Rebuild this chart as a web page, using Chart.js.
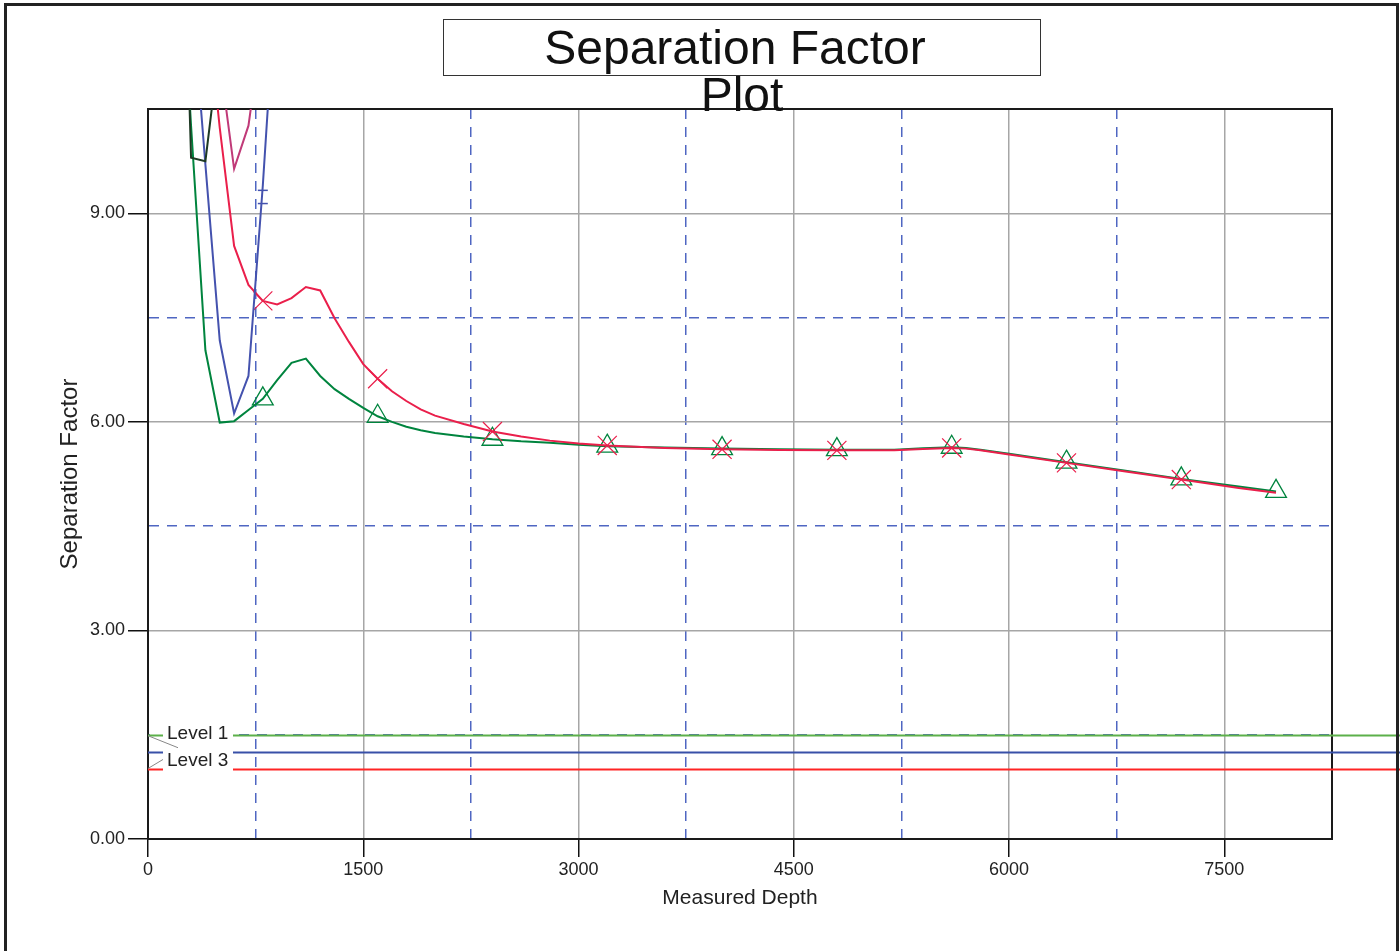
<!DOCTYPE html>
<html>
<head>
<meta charset="utf-8">
<script src="https://cdn.jsdelivr.net/npm/chart.js@4"></script>
<style>
  html, body { margin: 0; padding: 0; background: #ffffff; }
  #wrap { width: 1400px; height: 951px; position: relative; }
</style>
</head>
<body>
<div id="wrap"><canvas id="c"></canvas></div>
<script>
// ---- data ----
const titleLines = ['Separation Factor', 'Plot'];
const xAxisTitle = 'Measured Depth';
const yAxisTitle = 'Separation Factor';

const greenDepth = [200,300,400,500,600,700,800,900,1000,1100,1200,1300,1400,1500,1600,1700,1800,1900,2000,2200,2400,2600,2800,3000,3200,3600,4000,4400,4800,5200,5400,5600,5700,5800,6000,6400,6800,7200,7600,7860];
const greenSF    = [13.8,10.26,7.03,5.99,6.01,6.17,6.33,6.6,6.85,6.91,6.66,6.47,6.33,6.2,6.08,6.0,5.93,5.88,5.84,5.79,5.75,5.72,5.70,5.67,5.65,5.63,5.615,5.605,5.60,5.60,5.62,5.635,5.625,5.60,5.54,5.42,5.30,5.18,5.07,5.0];
const greenMarkers = [800,1600,2400,3200,4000,4800,5600,6400,7200,7860];

const redDepth = [400,500,600,700,800,900,1000,1100,1200,1300,1400,1500,1600,1700,1800,1900,2000,2200,2400,2600,2800,3000,3200,3600,4000,4400,4800,5200,5400,5600,5700,5800,6000,6400,6800,7200,7600,7860];
const redSF    = [12.2,10.23,8.53,7.97,7.74,7.69,7.78,7.94,7.89,7.49,7.15,6.83,6.62,6.44,6.30,6.18,6.09,5.97,5.86,5.79,5.73,5.69,5.66,5.625,5.605,5.595,5.59,5.59,5.61,5.625,5.615,5.59,5.53,5.41,5.29,5.17,5.05,4.98];
const redMarkers = [800,1600,2400,3200,4000,4800,5600,6400,7200];

const blueDepth = [300,400,500,600,700,800,900];
const blueSF    = [12.3,9.7,7.17,6.12,6.66,9.4,12.6];

const darkDepth = [200,300,400,500];
const darkSF    = [16.8,9.8,9.75,11.45];

const magentaDepth = [500,600,700,800];
const magentaSF    = [11.2,9.64,10.26,11.76];

const plusDepth = [800,800];
const plusSF    = [9.33,9.14];

const levelNames  = ['Level 1','Level 3'];
const levelValues = [1.5, 1.25, 1.0];
const levelColors = ['#5cb04a', '#3850a8', '#ff2424'];

const xTickMin = 0, xTickMax = 8250, xMinorStep = 750, xMajorStep = 1500;
const yTickMin = 0, yTickMax = 10.5, yMinorStep = 1.5, yMajorStep = 3;

// ---- helpers ----
const pts = (xs, ys) => xs.map((x, i) => ({x: x, y: ys[i]}));
const FONT = "'Liberation Sans', Arial, Helvetica, sans-serif";

const framePlugin = {
  id: 'frame',
  beforeDatasetsDraw(chart) {
    const {ctx, chartArea: a} = chart;
    ctx.save();
    ctx.strokeStyle = '#1a1a1a';
    ctx.lineWidth = 2;
    ctx.strokeRect(a.left, a.top, a.right - a.left, a.bottom - a.top);
    ctx.restore();
  },
  afterDatasetsDraw(chart) {
    const {ctx, chartArea: a, scales} = chart;
    const y = scales.y;
    const p1 = y.getPixelForValue(levelValues[0]);
    const p2 = y.getPixelForValue(levelValues[1]);
    const p3 = y.getPixelForValue(levelValues[2]);
    ctx.save();
    // clear the label gap
    ctx.fillStyle = '#ffffff';
    ctx.fillRect(a.left + 2, p1 - 4, 83, (p3 - p1) + 8);
    // level lines
    levelValues.forEach((v, i) => {
      const py = Math.round(y.getPixelForValue(v)) + 0.5;
      ctx.strokeStyle = levelColors[i];
      ctx.lineWidth = 2;
      ctx.beginPath();
      ctx.moveTo(a.left, py); ctx.lineTo(a.left + 15, py);
      ctx.moveTo(a.left + 85, py); ctx.lineTo(chart.width, py);
      ctx.stroke();
    });
    // labels
    ctx.fillStyle = '#222';
    ctx.font = '19px ' + FONT;
    ctx.textBaseline = 'middle';
    ctx.textAlign = 'left';
    ctx.fillText(levelNames[0], a.left + 19, p1 - 1);
    ctx.fillText(levelNames[1], a.left + 19, (p2 + p3) / 2 - 0);
    // leader lines
    ctx.strokeStyle = '#888';
    ctx.lineWidth = 1;
    ctx.beginPath();
    ctx.moveTo(a.left, p1 + 1); ctx.lineTo(a.left + 30, p1 + 13);
    ctx.moveTo(a.left, p3 - 1); ctx.lineTo(a.left + 15, p3 - 10);
    ctx.stroke();
    ctx.restore();
  },
  afterDraw(chart) {
    const {ctx} = chart;
    ctx.save();
    // outer frame
    ctx.strokeStyle = '#222';
    ctx.lineWidth = 3;
    ctx.strokeRect(5.5, 4.5, 1392, 980);
    // title box
    ctx.strokeStyle = '#333';
    ctx.lineWidth = 1;
    ctx.strokeRect(443.5, 19.5, 597, 56);
    ctx.fillStyle = '#111';
    ctx.font = '48px ' + FONT;
    ctx.textAlign = 'center';
    ctx.textBaseline = 'alphabetic';
    ctx.fillText(titleLines[0], 735, 64);
    ctx.fillText(titleLines[1], 742, 111);
    ctx.restore();
  }
};

const minorX = v => (v % xMajorStep) !== 0;
const minorY = v => Math.abs((v % yMajorStep)) > 1e-9;

new Chart(document.getElementById('c'), {
  type: 'line',
  data: {
    datasets: [
      { label: 'dark', data: pts(darkDepth, darkSF), borderColor: '#1e3a24', borderWidth: 2, pointRadius: 0, tension: 0 },
      { label: 'magenta', data: pts(magentaDepth, magentaSF), borderColor: '#c03a78', borderWidth: 2, pointRadius: 0, tension: 0 },
      { label: 'blue', data: pts(blueDepth, blueSF), borderColor: '#4452ae', borderWidth: 2, pointRadius: 0, tension: 0 },
      { label: 'plus', data: pts(plusDepth, plusSF), showLine: false, borderColor: '#4452ae', borderWidth: 1.5,
        pointStyle: 'line', pointRadius: 5, pointHoverRadius: 5 },
      { label: 'red', data: pts(redDepth, redSF), borderColor: '#ea1f4b', borderWidth: 2, tension: 0,
        pointStyle: 'crossRot', pointBorderColor: '#ea1f4b', pointBorderWidth: 1.2,
        pointRadius: c => redMarkers.includes(c.raw && c.raw.x) ? 13.5 : 0, pointHoverRadius: 0 },
      { label: 'green', data: pts(greenDepth, greenSF), borderColor: '#00843e', borderWidth: 2, tension: 0,
        pointStyle: 'triangle', pointBorderColor: '#00843e', pointBackgroundColor: 'rgba(0,0,0,0)', pointBorderWidth: 1.3,
        pointRadius: c => greenMarkers.includes(c.raw && c.raw.x) ? 12 : 0, pointHoverRadius: 0 }
    ]
  },
  options: {
    responsive: true,
    maintainAspectRatio: false,
    animation: false,
    devicePixelRatio: 1,
    layout: { padding: { top: 109, right: 68, bottom: 0, left: 0 } },
    plugins: { legend: { display: false }, tooltip: { enabled: false }, title: { display: false } },
    scales: {
      x: {
        type: 'linear', min: xTickMin, max: xTickMax,
        afterFit: s => { s.height = 112; },
        ticks: {
          stepSize: xMinorStep, autoSkip: false, maxRotation: 0, padding: 2,
          color: '#222', font: { size: 18, family: FONT },
          callback: v => minorX(v) ? '' : String(v)
        },
        grid: {
          color: c => (c.tick && minorX(c.tick.value)) ? '#4f66c2' : '#a6a6a6',
          lineWidth: 1.5,
          tickLength: 18, tickWidth: 1.5,
          tickColor: c => (c.tick && minorX(c.tick.value)) ? 'rgba(0,0,0,0)' : '#111'
        },
        border: { display: true, color: '#111', width: 2,
          dash: c => (c.tick && minorX(c.tick.value)) ? [10, 8] : [] },
        title: { display: true, text: xAxisTitle, color: '#222', font: { size: 21, family: FONT }, padding: { top: 0, bottom: 40 } }
      },
      y: {
        type: 'linear', min: yTickMin, max: yTickMax,
        afterFit: s => { s.width = 148; },
        ticks: {
          stepSize: yMinorStep, autoSkip: false, padding: 3,
          color: '#222', font: { size: 18, family: FONT },
          callback: v => minorY(v) ? '' : Number(v).toFixed(2)
        },
        grid: {
          color: c => (c.tick && minorY(c.tick.value)) ? '#4f66c2' : '#a6a6a6',
          lineWidth: 1.5,
          tickLength: 20, tickWidth: 1.5,
          tickColor: c => (c.tick && minorY(c.tick.value)) ? 'rgba(0,0,0,0)' : '#111'
        },
        border: { display: true, color: '#111', width: 2,
          dash: c => (c.tick && minorY(c.tick.value)) ? [10, 8] : [] },
        title: { display: true, text: yAxisTitle, color: '#222', font: { size: 24, family: FONT }, padding: { top: 56, bottom: 0 } }
      }
    }
  },
  plugins: [framePlugin]
});
</script>
</body>
</html>
